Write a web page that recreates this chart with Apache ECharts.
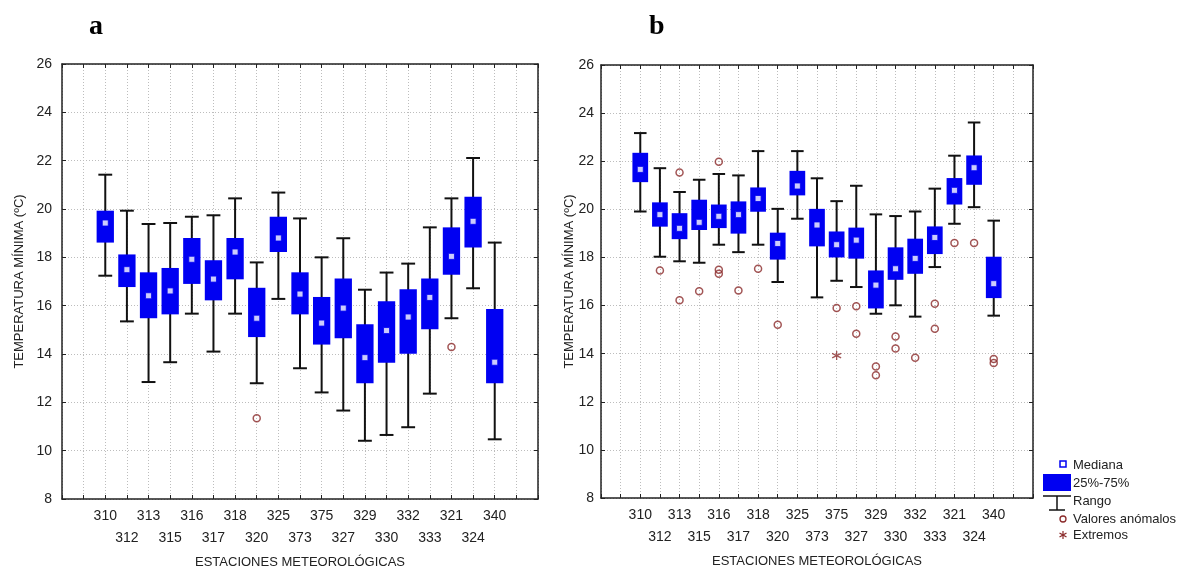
<!DOCTYPE html>
<html>
<head>
<meta charset="utf-8">
<title>Temperatura mínima por estación</title>
<script src="https://cdn.jsdelivr.net/npm/echarts@6/dist/echarts.min.js"></script>
<style>
  html, body { margin: 0; padding: 0; background: #fff; }
  #chart { width: 1193px; height: 572px; }
</style>
</head>
<body>
<div id="chart"></div>
<script>
// estaciones (orden del eje X)
var stations = ['310', '312', '313', '315', '316', '317', '318', '320', '325', '373',
                '375', '327', '329', '330', '332', '333', '321', '324', '340'];
var yTicks = [8, 10, 12, 14, 16, 18, 20, 22, 24, 26];

// panel a: rango, cuartiles y mediana
var aLow  = [17.24, 15.35, 12.84, 13.66, 15.67, 14.10, 15.67, 12.79, 16.28, 13.41, 12.41, 11.66, 10.41, 10.65, 10.97, 12.36, 15.48, 16.72, 10.47];
var aQ1   = [18.61, 16.77, 15.48, 15.64, 16.90, 16.22, 17.09, 14.70, 18.22, 15.64, 14.39, 14.65, 12.79, 13.64, 14.01, 15.02, 17.28, 18.41, 12.79];
var aMed  = [19.42, 17.49, 16.41, 16.61, 17.92, 17.10, 18.22, 15.48, 18.80, 16.48, 15.28, 15.90, 13.85, 14.97, 15.53, 16.34, 18.04, 19.49, 13.66];
var aQ3   = [19.93, 18.12, 17.38, 17.56, 18.80, 17.88, 18.80, 16.74, 19.68, 17.38, 16.36, 17.12, 15.23, 16.18, 16.68, 17.12, 19.24, 20.51, 15.86];
var aHigh = [21.42, 19.93, 19.38, 19.42, 19.68, 19.74, 20.44, 17.79, 20.68, 19.61, 18.00, 18.79, 16.66, 17.37, 17.74, 19.24, 20.44, 22.11, 18.61];
var aOutliers = [['320', 11.34], ['321', 14.29]];
var aExtremes = [];

// panel b
var bLow  = [19.91, 18.03, 17.84, 17.78, 18.53, 18.22, 18.53, 16.98, 19.61, 16.34, 17.03, 16.77, 15.66, 16.01, 15.54, 17.60, 19.40, 20.09, 15.58];
var bQ1   = [21.13, 19.28, 18.76, 19.14, 19.22, 18.99, 19.90, 17.91, 20.58, 18.46, 18.00, 17.95, 15.88, 17.07, 17.32, 18.14, 20.20, 21.02, 16.31];
var bMed  = [21.66, 19.78, 19.21, 19.46, 19.71, 19.78, 20.45, 18.58, 20.97, 19.35, 18.53, 18.72, 16.85, 17.53, 17.96, 18.83, 20.79, 21.73, 16.91];
var bQ3   = [22.35, 20.29, 19.84, 20.40, 20.20, 20.33, 20.91, 19.03, 21.60, 20.02, 19.08, 19.24, 17.46, 18.42, 18.78, 19.29, 21.30, 22.24, 18.03];
var bHigh = [23.17, 21.71, 20.72, 21.23, 21.47, 21.41, 22.42, 20.02, 22.42, 21.29, 20.34, 20.98, 19.79, 19.72, 19.91, 20.86, 22.23, 23.61, 19.53];
var bOutliers = [['312', 17.46], ['313', 21.53], ['313', 16.22], ['315', 16.59],
                 ['316', 21.98], ['316', 17.49], ['316', 17.32], ['317', 16.63],
                 ['318', 17.53], ['320', 15.20], ['375', 15.90], ['327', 15.97],
                 ['327', 14.83], ['329', 13.47], ['329', 13.10], ['330', 14.71],
                 ['330', 14.21], ['332', 13.83], ['333', 16.08], ['333', 15.04],
                 ['321', 18.60], ['324', 18.60], ['340', 13.78], ['340', 13.61]];
var bExtremes = [['375', 13.92]];

var FONT = 'Liberation Sans, Arial, sans-serif';
var BLUE = '#0000f2';
var RED = '#8b2b2b';
var TXT = '#222';

function boxData(lo, q1, med, q3, hi) {
    return stations.map(function (s, i) {
        return [i + 1, lo[i], q1[i], med[i], q3[i], hi[i]];
    });
}
function pointData(list) {
    return list.map(function (p) {
        return [stations.indexOf(p[0]) + 1, p[1]];
    });
}

// caja + bigotes
function renderBox(params, api) {
    var x = api.value(0);
    var lo = api.coord([x, api.value(1)]);
    var q1 = api.coord([x, api.value(2)]);
    var q3 = api.coord([x, api.value(4)]);
    var hi = api.coord([x, api.value(5)]);
    var band = api.size([1, 0])[0];
    var bw = band * 0.8, cw = band * 0.64;
    var stroke = { stroke: '#111', lineWidth: 2 };
    return {
        type: 'group',
        children: [
            { type: 'line', shape: { x1: hi[0], y1: hi[1], x2: lo[0], y2: lo[1] }, style: stroke },
            { type: 'line', shape: { x1: hi[0] - cw / 2, y1: hi[1], x2: hi[0] + cw / 2, y2: hi[1] }, style: stroke },
            { type: 'line', shape: { x1: lo[0] - cw / 2, y1: lo[1], x2: lo[0] + cw / 2, y2: lo[1] }, style: stroke },
            { type: 'rect', shape: { x: q3[0] - bw / 2, y: q3[1], width: bw, height: q1[1] - q3[1] }, style: { fill: BLUE } }
        ]
    };
}

var xLabel = function (v) {
    var name = stations[v - 1];
    if (!name) return '';
    return v % 2 === 1 ? name : '\n' + name;
};

function axesFor(g) {
    var dotted = { color: '#bdbdbd', type: [1, 2], width: 1 };
    var frame = { show: true, onZero: false, lineStyle: { color: '#222', width: 1.5 } };
    var tick = { show: true, inside: true, length: 4, lineStyle: { color: '#222' } };
    return {
        x: [{
            gridIndex: g, type: 'value', min: -1, max: 21, interval: 1, position: 'bottom',
            axisLine: frame, axisTick: tick, splitLine: { show: true, lineStyle: dotted },
            axisLabel: { formatter: xLabel, fontFamily: FONT, fontSize: 14, color: TXT, lineHeight: 22, margin: 6 },
            name: 'ESTACIONES METEOROLÓGICAS', nameLocation: 'middle', nameGap: 57, nameMoveOverlap: false,
            nameTextStyle: { fontFamily: FONT, fontSize: 13, color: TXT }
        }, {
            gridIndex: g, type: 'value', min: -1, max: 21, interval: 1, position: 'top',
            axisLine: frame, axisTick: tick, splitLine: { show: false }, axisLabel: { show: false }
        }],
        y: [{
            gridIndex: g, type: 'value', min: 8, max: 26, interval: 2, position: 'left',
            axisLine: frame, axisTick: tick, splitLine: { show: true, lineStyle: dotted },
            axisLabel: { fontFamily: FONT, fontSize: 14, color: TXT, margin: g === 0 ? 10 : 7 },
            name: 'TEMPERATURA MÍNIMA (ºC)', nameLocation: 'middle', nameGap: g === 0 ? 36 : 25, nameMoveOverlap: false,
            nameTextStyle: { fontFamily: FONT, fontSize: 13, color: TXT }
        }, {
            gridIndex: g, type: 'value', min: 8, max: 26, interval: 2, position: 'right',
            axisLine: frame, axisTick: tick, splitLine: { show: false }, axisLabel: { show: false }
        }]
    };
}

function seriesFor(xi, yi, lo, q1, med, q3, hi, outl, ext) {
    return [{
        name: 'Rango', type: 'custom', xAxisIndex: xi, yAxisIndex: yi,
        renderItem: renderBox, data: boxData(lo, q1, med, q3, hi),
        encode: { x: 0, y: [1, 2, 3, 4, 5] }, z: 2
    }, {
        name: 'Mediana', type: 'scatter', xAxisIndex: xi, yAxisIndex: yi,
        data: med.map(function (v, i) { return [i + 1, v]; }),
        symbol: 'rect', symbolSize: 6,
        itemStyle: { color: '#fff', borderColor: BLUE, borderWidth: 1 }, z: 3
    }, {
        name: 'Valores anómalos', type: 'scatter', xAxisIndex: xi, yAxisIndex: yi,
        data: pointData(outl), symbol: 'circle', symbolSize: 7,
        itemStyle: { color: 'transparent', borderColor: RED, borderWidth: 1.5 }, z: 3
    }, {
        name: 'Extremos', type: 'scatter', xAxisIndex: xi, yAxisIndex: yi,
        data: pointData(ext), symbol: 'path://M5,0L5,10M0.7,2.5L9.3,7.5M0.7,7.5L9.3,2.5', symbolSize: 9,
        itemStyle: { color: 'transparent', borderColor: RED, borderWidth: 1.3 }, z: 3
    }];
}

var myChart = echarts.init(document.getElementById('chart'));
var axA = axesFor(0), axB = axesFor(1);

var legendX = 1043, legendText = 1073;
var lt = function (t, y) {
    return { type: 'text', style: { text: t, x: legendText, y: y, fill: TXT, font: '13px ' + FONT, verticalAlign: 'middle' } };
};
var blk = { stroke: '#111', lineWidth: 1.5 };

option = {
    animation: false,
    title: [
        { text: 'a', left: 84, top: 8, textStyle: { fontFamily: 'Liberation Serif', fontWeight: 'bold', fontSize: 28, color: '#000' } },
        { text: 'b', left: 644, top: 8, textStyle: { fontFamily: 'Liberation Serif', fontWeight: 'bold', fontSize: 28, color: '#000' } }
    ],
    grid: [
        { left: 62, top: 64, width: 476, height: 435, outerBoundsMode: 'none' },
        { left: 601, top: 65, width: 432, height: 433, outerBoundsMode: 'none' }
    ],
    xAxis: axA.x.concat(axB.x),
    yAxis: axA.y.concat(axB.y),
    series: seriesFor(0, 0, aLow, aQ1, aMed, aQ3, aHigh, aOutliers, aExtremes)
        .concat(seriesFor(2, 2, bLow, bQ1, bMed, bQ3, bHigh, bOutliers, bExtremes)),
    graphic: [
        // leyenda
        { type: 'rect', shape: { x: 1060, y: 461, width: 6, height: 6 }, style: { fill: '#fff', stroke: BLUE, lineWidth: 1.5 } },
        lt('Mediana', 465),
        { type: 'rect', shape: { x: legendX, y: 474, width: 28, height: 17 }, style: { fill: BLUE } },
        lt('25%-75%', 483),
        { type: 'line', shape: { x1: legendX, y1: 496, x2: legendX + 28, y2: 496 }, style: blk },
        { type: 'line', shape: { x1: 1057, y1: 496, x2: 1057, y2: 510 }, style: blk },
        { type: 'line', shape: { x1: 1049, y1: 510, x2: 1065, y2: 510 }, style: blk },
        lt('Rango', 501),
        { type: 'circle', shape: { cx: 1063, cy: 519, r: 3 }, style: { fill: 'none', stroke: RED, lineWidth: 1.3 } },
        lt('Valores anómalos', 519),
        { type: 'line', shape: { x1: 1063, y1: 531, x2: 1063, y2: 539 }, style: { stroke: RED, lineWidth: 1.2 } },
        { type: 'line', shape: { x1: 1059.5, y1: 533, x2: 1066.5, y2: 537 }, style: { stroke: RED, lineWidth: 1.2 } },
        { type: 'line', shape: { x1: 1059.5, y1: 537, x2: 1066.5, y2: 533 }, style: { stroke: RED, lineWidth: 1.2 } },
        lt('Extremos', 535)
    ]
};
myChart.setOption(option);
</script>
</body>
</html>
